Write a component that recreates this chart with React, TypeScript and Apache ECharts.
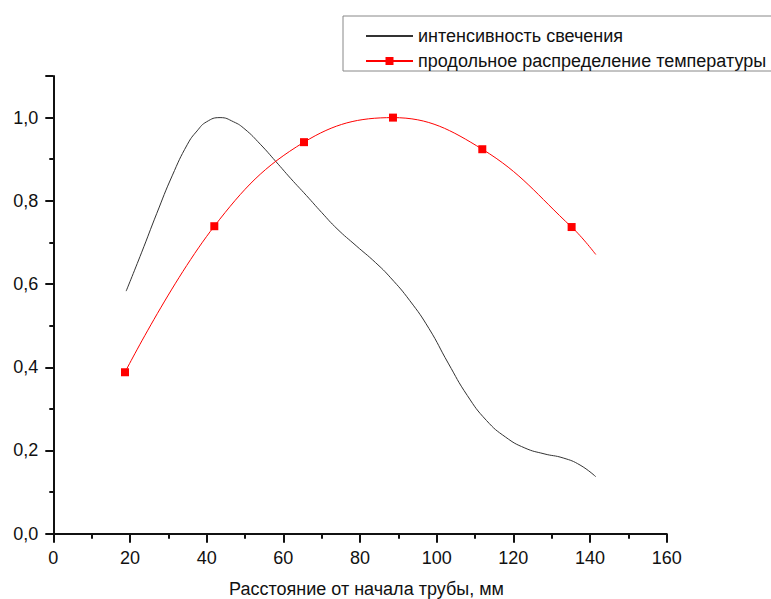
import React, { useEffect, useRef } from "react";
import * as echarts from "echarts";

const seriesNames = ["интенсивность свечения", "продольное распределение температуры"];
const xAxisTitle = "Расстояние от начала трубы, мм";

// intensity (black) curve
const intensityX = [19, 23, 27, 31, 35, 37.5, 40, 43.5, 47, 50, 54, 58, 62, 66, 70, 74, 79, 84, 88, 93, 98, 103, 108, 113, 118, 123, 128, 133, 137.4, 141.5];
const intensityY = [0.583, 0.675, 0.77, 0.86, 0.936, 0.968, 0.99, 1.0, 0.99, 0.972, 0.936, 0.895, 0.853, 0.813, 0.772, 0.733, 0.692, 0.652, 0.615, 0.56, 0.493, 0.41, 0.332, 0.272, 0.232, 0.206, 0.192, 0.182, 0.165, 0.137];

// temperature (red) markers + end of the curve
const tempX = [18.7, 42.0, 65.4, 88.6, 111.9, 135.2, 141.5];
const tempY = [0.388, 0.739, 0.941, 1.0, 0.924, 0.737, 0.671];
const tempMarked = [true, true, true, true, true, true, false];

const fmt = (v: number) => v.toFixed(1).replace(".", ",");

export default function App() {
  const ref = useRef<HTMLDivElement>(null);
  useEffect(() => {
    if (!ref.current) return;
    const chart = echarts.init(ref.current, null, { renderer: "svg" });
    const font = "'Liberation Sans', Arial, sans-serif";
    chart.setOption({
      animation: false,
      backgroundColor: "#fff",
      textStyle: { fontFamily: font },
      grid: {
        left: 53.3,
        right: 104.3,
        top: 76,
        bottom: 65.3,
        containLabel: false,
        outerBoundsMode: "none",
      },
      legend: {
        orient: "vertical",
        left: 343,
        top: 16,
        padding: [11, 6, 1, 22],
        itemGap: 7,
        itemWidth: 47,
        itemHeight: 10,
        borderColor: "#888",
        borderWidth: 1,
        textStyle: { fontFamily: font, fontSize: 18, color: "#111", lineHeight: 18 },
        data: [
          { name: seriesNames[0], itemStyle: { opacity: 0 } },
          { name: seriesNames[1] },
        ],
      },
      xAxis: {
        type: "value",
        min: 0,
        max: 160,
        interval: 20,
        name: xAxisTitle,
        nameLocation: "middle",
        nameGap: 46,
        nameTextStyle: { fontSize: 18, color: "#111", fontFamily: font, padding: [0, 0, 0, 13] },
        axisLine: { show: true, onZero: false, lineStyle: { color: "#111", width: 2 } },
        axisTick: { show: true, inside: false, length: 9, lineStyle: { color: "#111", width: 2 } },
        minorTick: { show: true, splitNumber: 2, length: 5, lineStyle: { color: "#111", width: 2 } },
        splitLine: { show: false },
        axisLabel: { fontSize: 18, color: "#111", margin: 15, fontFamily: font },
      },
      yAxis: {
        type: "value",
        min: 0,
        max: 1.1,
        interval: 0.2,
        axisLine: { show: true, onZero: false, lineStyle: { color: "#111", width: 2 } },
        axisTick: { show: true, inside: false, length: 8, lineStyle: { color: "#111", width: 2 } },
        minorTick: { show: true, splitNumber: 2, length: 4, lineStyle: { color: "#111", width: 2 } },
        splitLine: { show: false },
        axisLabel: {
          fontSize: 18,
          color: "#111",
          margin: 15,
          fontFamily: font,
          showMaxLabel: false,
          formatter: (v: number) => fmt(v),
        },
      },
      series: [
        {
          name: seriesNames[0],
          type: "line",
          smooth: 0.5,
          symbol: "none",
          lineStyle: { color: "#333", width: 1 },
          itemStyle: { color: "#333" },
          data: intensityX.map((x, i) => [x, intensityY[i]]),
        },
        {
          name: seriesNames[1],
          type: "line",
          smooth: 0.4,
          symbol: "rect",
          symbolSize: 8,
          lineStyle: { color: "#f00", width: 1 },
          itemStyle: { color: "#f00" },
          data: tempX.map((x, i) =>
            tempMarked[i] ? [x, tempY[i]] : { value: [x, tempY[i]], symbol: "none" }
          ),
        },
      ],
    });
    return () => chart.dispose();
  }, []);
  return (
    <div
      ref={ref}
      style={{ position: "absolute", left: 0, top: 0, width: 771, height: 599 }}
    />
  );
}
